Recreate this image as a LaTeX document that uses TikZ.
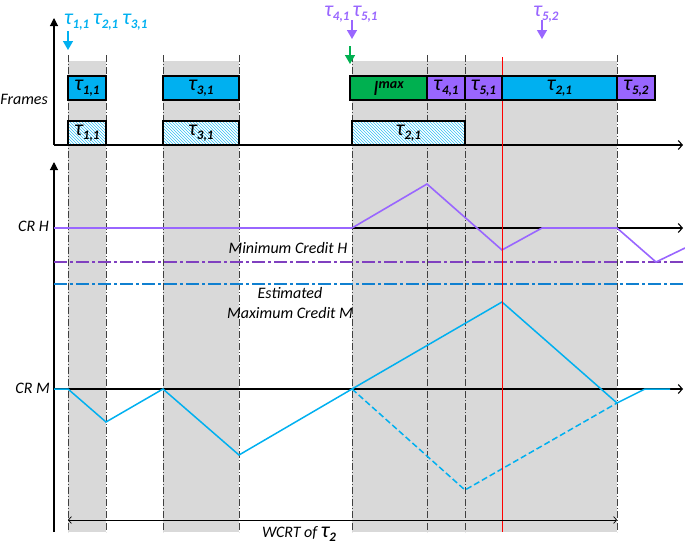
\documentclass[tikz,border=0pt]{standalone}
\usepackage{fontspec}
\setmainfont{Carlito}
\usetikzlibrary{arrows.meta,patterns}
\definecolor{grayreg}{HTML}{D9D9D9}
\definecolor{cblue}{HTML}{00B0F0}
\definecolor{cpurple}{HTML}{9966FF}
\definecolor{cpurpled}{HTML}{8040C0}
\definecolor{cgreen}{HTML}{00B050}
\definecolor{cest}{HTML}{1080D0}
\definecolor{vgray}{HTML}{404040}
\newcommand\tk[2]{{\fontsize{22}{22}\selectfont τ}\raisebox{-3.5pt}{\fontsize{13}{13}\selectfont\bfseries #1,#2}}
\begin{document}
\begin{tikzpicture}[x=1pt,y=-1pt,
  every node/.style={font=\fontsize{16}{19}\selectfont\itshape},
  vline/.style={vgray, line width=0.9pt, dash pattern=on 7pt off 2pt on 1pt off 2pt},
  frame/.style={draw=black, line width=1.1pt, inner sep=0pt, outer sep=0pt, minimum height=24pt, anchor=north west, text=black},
  hatch/.style={frame, preaction={fill=white}, pattern={north west lines}, pattern color=cblue!80},
  axis/.style={black, line width=1.1pt},
  vaxis/.style={axis, -{Triangle[length=8pt,width=8pt]}},
  haxis/.style={axis, -{Straight Barb[length=4pt,width=9pt]}},
  tarrow/.style={line width=1.4pt, -{Triangle[length=9pt,width=10pt]}},
  hcurve/.style={cpurple, line width=1.6pt},
  mcurve/.style={cblue, line width=1.5pt},
  lbl/.style={inner sep=0pt}
]
\useasboundingbox (0,0) rectangle (685,544);
% gray regions
\fill[grayreg] (68,61) rectangle (106,532);
\fill[grayreg] (163,61) rectangle (239,532);
\fill[grayreg] (352,61) rectangle (617,532);
% vertical dash-dot lines
\foreach \x in {68,106,163,239,352,427,465,617}
  \draw[vline] (\x,55) -- (\x,532);
% axes
\coordinate (o1) at (54,145);
\coordinate (t1) at (54,18);
\coordinate (r1) at (683,145);
\coordinate (o2) at (54,532);
\coordinate (t2) at (54,162);
\coordinate (hL) at (54,228);
\coordinate (hR) at (683,228);
\coordinate (mL) at (54,389);
\coordinate (mR) at (683,389);
\draw[vaxis] (o1) -- (t1);
\draw[haxis] (o1) -- (r1);
\draw[vaxis] (o2) -- (t2);
\draw[haxis] (hL) -- (hR);
\draw[haxis] (mL) -- (mR);
% reference lines
\coordinate (minL) at (54,262);
\coordinate (minR) at (685,262);
\coordinate (estL) at (54,284);
\coordinate (estR) at (685,284);
\draw[cpurpled, line width=1.8pt, dash pattern=on 13pt off 3pt on 3pt off 3pt] (minL) -- (minR);
\draw[cest, line width=1.1pt, dash pattern=on 13pt off 3pt on 3pt off 3pt] (estL) -- (estR);
% H curve
\coordinate (h0) at (54,228);
\coordinate (h1) at (352,228);
\coordinate (h2) at (427,184);
\coordinate (h3) at (502,250);
\coordinate (h4) at (542,228);
\coordinate (h5) at (617,228);
\coordinate (h6) at (656,262);
\coordinate (h7) at (685,248);
\draw[hcurve] (h0) -- (h1) -- (h2) -- (h3) -- (h4) -- (h5) -- (h6) -- (h7);
% M curve
\coordinate (m0) at (54,389);
\coordinate (m1) at (68,389);
\coordinate (m2) at (106,422);
\coordinate (m3) at (163,389);
\coordinate (m4) at (239,455);
\coordinate (m5) at (352,389);
\coordinate (m6) at (502,302);
\coordinate (m7) at (617,403);
\coordinate (m8) at (645,389);
\coordinate (m9) at (670,389);
\coordinate (d1) at (465,490);
\draw[mcurve] (m0) -- (m1) -- (m2) -- (m3) -- (m4) -- (m5) -- (m6) -- (m7) -- (m8) -- (m9);
\draw[mcurve, dash pattern=on 6pt off 3pt] (m5) -- (d1) -- (m7);
% red line
\coordinate (rt) at (502,57);
\coordinate (rb) at (502,532);
\draw[red, line width=0.8pt] (rt) -- (rb);
% frame boxes
\node[frame, fill=cblue, minimum width=38pt] (b11) at (68,76) {\tk11};
\node[frame, fill=cblue, minimum width=76pt] (b31) at (163,76) {\tk31};
\node[frame, fill=cgreen, minimum width=77pt] (bI) at (350,76) {{\fontsize{22}{22}\selectfont I}\raisebox{7pt}{\fontsize{14}{14}\selectfont\bfseries max}};
\node[frame, fill=cpurple, minimum width=38pt] (b41) at (427,76) {\tk41};
\node[frame, fill=cpurple, minimum width=37pt] (b51) at (465,76) {\tk51};
\node[frame, fill=cblue, minimum width=115pt] (b21) at (502,76) {\tk21};
\node[frame, fill=cpurple, minimum width=38pt] (b52) at (617,76) {\tk52};
\node[hatch, minimum width=38pt] (g11) at (68,121) {\tk11};
\node[hatch, minimum width=76pt] (g31) at (163,121) {\tk31};
\node[hatch, minimum width=113pt] (g21) at (352,121) {\tk21};
% release arrows and labels
\node[lbl, text=cblue, anchor=west] (lab1) at (64,22) {\tk11\hspace{4pt}\tk21\hspace{4pt}\tk31};
\node[lbl, text=cpurple] (lab2) at (351,14) {\tk41\hspace{3pt}\tk51};
\node[lbl, text=cpurple] (lab3) at (546,14) {\tk52};
\coordinate (a1s) at (68,31);  \coordinate (a1e) at (68,50);
\coordinate (a2s) at (352,20); \coordinate (a2e) at (352,39);
\coordinate (a3s) at (542,20); \coordinate (a3e) at (542,39);
\coordinate (a4s) at (350,46); \coordinate (a4e) at (350,64);
\draw[tarrow, cblue] (a1s) -- (a1e);
\draw[tarrow, cpurple] (a2s) -- (a2e);
\draw[tarrow, cpurple] (a3s) -- (a3e);
\draw[tarrow, cgreen] (a4s) -- (a4e);
% text labels
\node[lbl, anchor=east] (frames) at (48,99) {Frames};
\node[lbl, anchor=east] (crh) at (49,226) {CR H};
\node[lbl, anchor=east] (crm) at (50,388) {CR M};
\node[lbl] (minc) at (288,248) {Minimum Credit H};
\node[lbl, align=center, font=\fontsize{16}{20}\selectfont\itshape] (estc) at (290,303) {Estimated\\Maximum Credit M};
% WCRT
\coordinate (w1) at (68,520);
\coordinate (w2) at (617,520);
\draw[line width=0.7pt, {Straight Barb[length=3pt,width=7pt]}-{Straight Barb[length=3pt,width=7pt]}] (w1) -- (w2);
\node[lbl] (wcrt) at (299,534) {WCRT of {\fontsize{22}{22}\selectfont τ}\raisebox{-3.5pt}{\fontsize{13}{13}\selectfont\bfseries 2}};
\end{tikzpicture}
\end{document}
